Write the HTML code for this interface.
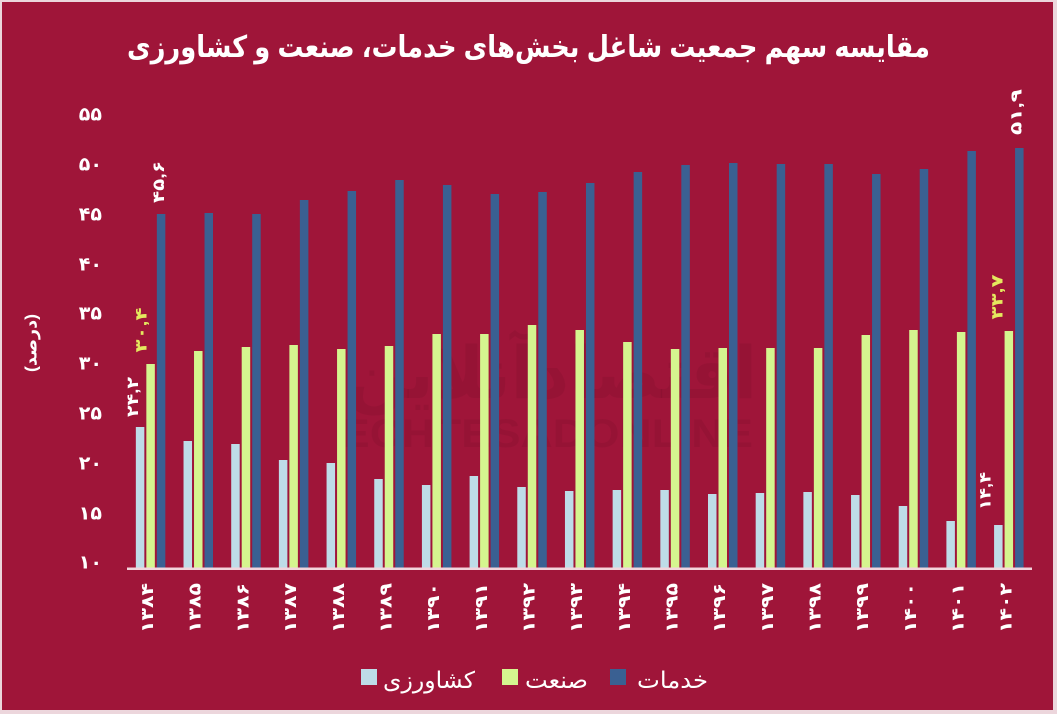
<!DOCTYPE html>
<html>
<head>
<meta charset="utf-8">
<style>
  html,body{margin:0;padding:0;background:#ecd6dc;}
  svg{display:block;}
  text{font-family:"Liberation Sans","DejaVu Sans",sans-serif;}
</style>
</head>
<body>
<svg width="1057" height="714" viewBox="0 0 1057 714" xmlns="http://www.w3.org/2000/svg">
  <rect x="0" y="0" width="1057" height="714" fill="#ecd6dc"/>
  <rect x="2" y="2" width="1051" height="708" fill="#9f1539"/>

  <!-- watermark -->
  <text x="552" y="398" text-anchor="middle" font-size="72" font-weight="bold" fill="#000" fill-opacity="0.055" direction="rtl" textLength="410" lengthAdjust="spacingAndGlyphs">اقتصادآنلاین</text>
  <text x="340" y="447" font-size="40" font-weight="bold" fill="#000" fill-opacity="0.055" textLength="413" lengthAdjust="spacingAndGlyphs">ECHTESADONLINE</text>

  <!-- title -->
  <text x="528.5" y="57" text-anchor="middle" font-size="30" font-weight="bold" fill="#ffffff" direction="rtl" textLength="803" lengthAdjust="spacingAndGlyphs">مقایسه سهم جمعیت شاغل بخش‌های خدمات، صنعت و کشاورزی</text>

  <!-- y axis labels -->
  <g font-size="19" font-weight="bold" fill="#ffffff" text-anchor="end" dominant-baseline="central">
    <text x="102" y="115">۵۵</text>
    <text x="102" y="165">۵۰</text>
    <text x="102" y="215">۴۵</text>
    <text x="102" y="265">۴۰</text>
    <text x="102" y="314">۳۵</text>
    <text x="102" y="364">۳۰</text>
    <text x="102" y="414">۲۵</text>
    <text x="102" y="464">۲۰</text>
    <text x="102" y="514">۱۵</text>
    <text x="102" y="563">۱۰</text>
  </g>

  <!-- y axis title -->
  <text transform="translate(31,343) rotate(-90)" text-anchor="middle" dominant-baseline="central" font-size="17" font-weight="bold" fill="#ffffff" direction="rtl" textLength="58" lengthAdjust="spacingAndGlyphs">(درصد)</text>

  <!-- bars: light (کشاورزی) -->
  <g fill="#bedce8">
    <rect x="135.84" y="427" width="8.5" height="141"/>
    <rect x="183.52" y="441" width="8.5" height="127"/>
    <rect x="231.2" y="444" width="8.5" height="124"/>
    <rect x="278.88" y="460" width="8.5" height="108"/>
    <rect x="326.56" y="463" width="8.5" height="105"/>
    <rect x="374.24" y="479" width="8.5" height="89"/>
    <rect x="421.92" y="485" width="8.5" height="83"/>
    <rect x="469.6" y="476" width="8.5" height="92"/>
    <rect x="517.28" y="487" width="8.5" height="81"/>
    <rect x="564.96" y="491" width="8.5" height="77"/>
    <rect x="612.64" y="490" width="8.5" height="78"/>
    <rect x="660.32" y="490" width="8.5" height="78"/>
    <rect x="708" y="494" width="8.5" height="74"/>
    <rect x="755.68" y="493" width="8.5" height="75"/>
    <rect x="803.36" y="492" width="8.5" height="76"/>
    <rect x="851.04" y="495" width="8.5" height="73"/>
    <rect x="898.72" y="506" width="8.5" height="62"/>
    <rect x="946.4" y="521" width="8.5" height="47"/>
    <rect x="994.08" y="525" width="8.5" height="43"/>
  </g>
  <!-- bars: green (صنعت) -->
  <g fill="#d5f58f">
    <rect x="146.34" y="364" width="8.5" height="204"/>
    <rect x="194.02" y="351" width="8.5" height="217"/>
    <rect x="241.7" y="347" width="8.5" height="221"/>
    <rect x="289.38" y="345" width="8.5" height="223"/>
    <rect x="337.06" y="349" width="8.5" height="219"/>
    <rect x="384.74" y="346" width="8.5" height="222"/>
    <rect x="432.42" y="334" width="8.5" height="234"/>
    <rect x="480.1" y="334" width="8.5" height="234"/>
    <rect x="527.78" y="325" width="8.5" height="243"/>
    <rect x="575.46" y="330" width="8.5" height="238"/>
    <rect x="623.14" y="342" width="8.5" height="226"/>
    <rect x="670.82" y="349" width="8.5" height="219"/>
    <rect x="718.5" y="348" width="8.5" height="220"/>
    <rect x="766.18" y="348" width="8.5" height="220"/>
    <rect x="813.86" y="348" width="8.5" height="220"/>
    <rect x="861.54" y="335" width="8.5" height="233"/>
    <rect x="909.22" y="330" width="8.5" height="238"/>
    <rect x="956.9" y="332" width="8.5" height="236"/>
    <rect x="1004.58" y="331" width="8.5" height="237"/>
  </g>
  <!-- bars: blue (خدمات) -->
  <g fill="#3a6092">
    <rect x="156.84" y="214" width="8.5" height="354"/>
    <rect x="204.52" y="213" width="8.5" height="355"/>
    <rect x="252.2" y="214" width="8.5" height="354"/>
    <rect x="299.88" y="200" width="8.5" height="368"/>
    <rect x="347.56" y="191" width="8.5" height="377"/>
    <rect x="395.24" y="180" width="8.5" height="388"/>
    <rect x="442.92" y="185" width="8.5" height="383"/>
    <rect x="490.6" y="194" width="8.5" height="374"/>
    <rect x="538.28" y="192" width="8.5" height="376"/>
    <rect x="585.96" y="183" width="8.5" height="385"/>
    <rect x="633.64" y="172" width="8.5" height="396"/>
    <rect x="681.32" y="165" width="8.5" height="403"/>
    <rect x="729" y="163" width="8.5" height="405"/>
    <rect x="776.68" y="164" width="8.5" height="404"/>
    <rect x="824.36" y="164" width="8.5" height="404"/>
    <rect x="872.04" y="174" width="8.5" height="394"/>
    <rect x="919.72" y="169" width="8.5" height="399"/>
    <rect x="967.4" y="151" width="8.5" height="417"/>
    <rect x="1015.08" y="148" width="8.5" height="420"/>
  </g>

  <!-- axis line -->
  <rect x="127" y="567.5" width="905" height="2.5" fill="#f2d4dc"/>

  <!-- x labels -->
  <g font-size="17" font-weight="bold" fill="#ffffff" text-anchor="middle" dominant-baseline="central" direction="ltr">
    <text transform="translate(147.5,608) rotate(-90)" textLength="50" lengthAdjust="spacingAndGlyphs">۱۳۸۴</text>
    <text transform="translate(195.2,608) rotate(-90)" textLength="50" lengthAdjust="spacingAndGlyphs">۱۳۸۵</text>
    <text transform="translate(242.9,608) rotate(-90)" textLength="50" lengthAdjust="spacingAndGlyphs">۱۳۸۶</text>
    <text transform="translate(290.6,608) rotate(-90)" textLength="50" lengthAdjust="spacingAndGlyphs">۱۳۸۷</text>
    <text transform="translate(338.3,608) rotate(-90)" textLength="50" lengthAdjust="spacingAndGlyphs">۱۳۸۸</text>
    <text transform="translate(385.9,608) rotate(-90)" textLength="50" lengthAdjust="spacingAndGlyphs">۱۳۸۹</text>
    <text transform="translate(433.6,608) rotate(-90)" textLength="50" lengthAdjust="spacingAndGlyphs">۱۳۹۰</text>
    <text transform="translate(481.3,608) rotate(-90)" textLength="50" lengthAdjust="spacingAndGlyphs">۱۳۹۱</text>
    <text transform="translate(529.0,608) rotate(-90)" textLength="50" lengthAdjust="spacingAndGlyphs">۱۳۹۲</text>
    <text transform="translate(576.7,608) rotate(-90)" textLength="50" lengthAdjust="spacingAndGlyphs">۱۳۹۳</text>
    <text transform="translate(624.3,608) rotate(-90)" textLength="50" lengthAdjust="spacingAndGlyphs">۱۳۹۴</text>
    <text transform="translate(672.0,608) rotate(-90)" textLength="50" lengthAdjust="spacingAndGlyphs">۱۳۹۵</text>
    <text transform="translate(719.7,608) rotate(-90)" textLength="50" lengthAdjust="spacingAndGlyphs">۱۳۹۶</text>
    <text transform="translate(767.4,608) rotate(-90)" textLength="50" lengthAdjust="spacingAndGlyphs">۱۳۹۷</text>
    <text transform="translate(815.1,608) rotate(-90)" textLength="50" lengthAdjust="spacingAndGlyphs">۱۳۹۸</text>
    <text transform="translate(862.7,608) rotate(-90)" textLength="50" lengthAdjust="spacingAndGlyphs">۱۳۹۹</text>
    <text transform="translate(910.4,608) rotate(-90)" textLength="50" lengthAdjust="spacingAndGlyphs">۱۴۰۰</text>
    <text transform="translate(958.1,608) rotate(-90)" textLength="50" lengthAdjust="spacingAndGlyphs">۱۴۰۱</text>
    <text transform="translate(1005.8,608) rotate(-90)" textLength="50" lengthAdjust="spacingAndGlyphs">۱۴۰۲</text>
  </g>

  <!-- data labels -->
  <g font-size="16" font-weight="bold" text-anchor="middle" dominant-baseline="central" direction="ltr">
    <text transform="translate(133.5,397) rotate(-90)" fill="#ffffff" textLength="40" lengthAdjust="spacingAndGlyphs">۲۴,۲</text>
    <text transform="translate(142,330) rotate(-90)" fill="#e4e85e" textLength="45" lengthAdjust="spacingAndGlyphs">۳۰,۴</text>
    <text transform="translate(159.5,182) rotate(-90)" fill="#ffffff" textLength="42" lengthAdjust="spacingAndGlyphs">۴۵,۶</text>
    <text transform="translate(986,491) rotate(-90)" fill="#ffffff" textLength="38" lengthAdjust="spacingAndGlyphs">۱۴,۴</text>
    <text transform="translate(998,297) rotate(-90)" fill="#e4e85e" textLength="45" lengthAdjust="spacingAndGlyphs">۳۳,۷</text>
    <text transform="translate(1017,112) rotate(-90)" fill="#ffffff" textLength="46" lengthAdjust="spacingAndGlyphs">۵۱,۹</text>
  </g>

  <!-- legend -->
  <rect x="361" y="669" width="16" height="16" fill="#bedce8"/>
  <rect x="502" y="669" width="16" height="16" fill="#d5f58f"/>
  <rect x="610" y="669" width="16" height="16" fill="#3a6092"/>
  <g font-size="23" fill="#ffffff" text-anchor="middle" direction="rtl">
    <text x="429" y="688" textLength="92" lengthAdjust="spacingAndGlyphs">کشاورزی</text>
    <text x="556.5" y="688" textLength="63" lengthAdjust="spacingAndGlyphs">صنعت</text>
    <text x="672.5" y="688" textLength="71" lengthAdjust="spacingAndGlyphs">خدمات</text>
  </g>
</svg>
</body>
</html>
